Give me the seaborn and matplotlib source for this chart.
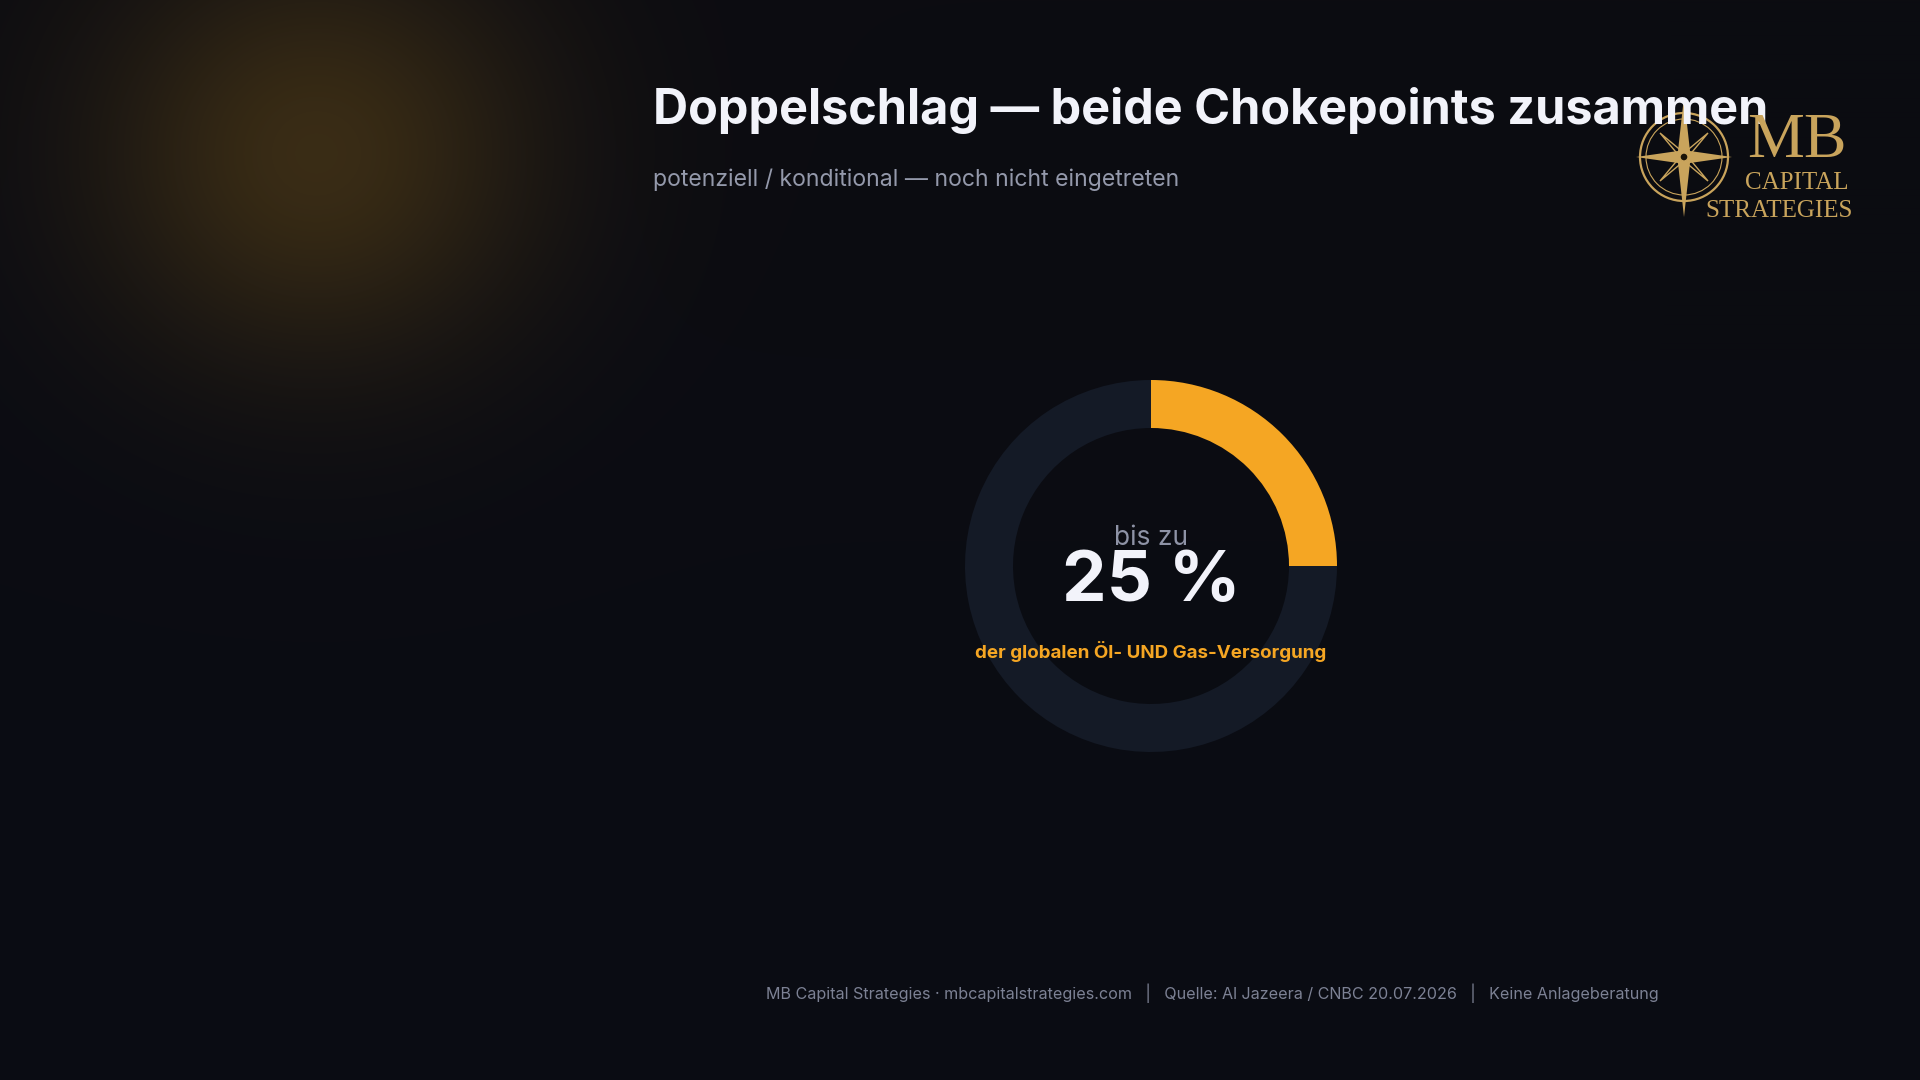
import numpy as np
import matplotlib
matplotlib.use("Agg")
import matplotlib.pyplot as plt
import seaborn as sns
from matplotlib.patches import Circle, Polygon

# ---- data ----
segment_labels = ["Betroffen", "Rest"]
segment_values = [25, 75]
center_prefix = "bis zu"
center_value = "25 %"
center_caption = "der globalen Öl- UND Gas-Versorgung"
title = "Doppelschlag — beide Chokepoints zusammen"
subtitle = "potenziell / konditional — noch nicht eingetreten"
footer = ("MB Capital Strategies · mbcapitalstrategies.com   |   "
          "Quelle: Al Jazeera / CNBC 20.07.2026   |   Keine Anlageberatung")

ORANGE = "#f5a623"
TRACK = "#141a26"
BG = "#0a0c14"

sns.set_theme(style="dark")
plt.rcParams["font.family"] = ["Inter", "DejaVu Sans"]

W, H = 1920, 1080
fig = plt.figure(figsize=(W / 100, H / 100), dpi=100)
fig.patch.set_facecolor(BG)

# ---- background with warm glow ----
bg = fig.add_axes([0, 0, 1, 1])
bg.set_axis_off()
yy, xx = np.mgrid[0:H, 0:W]
base = np.array([10, 12, 20]) / 255.0
top = np.array([12, 12, 17]) / 255.0
t = (yy / H)[..., None]
img = top * (1 - t) + base * t
d = np.sqrt(((xx - 316) / 380.0) ** 2 + ((yy - 153) / 360.0) ** 2)
g = (np.exp(-d ** 2 * 3.0) * 0.85)[..., None]
glow = np.array([66, 50, 22]) / 255.0
img = img * (1 - g) + glow * g
bg.imshow(np.clip(img, 0, 1), extent=[0, W, H, 0], aspect="auto", zorder=0)
bg.set_xlim(0, W)
bg.set_ylim(H, 0)

# ---- donut ----
cx, cy, R = 1151, 566, 186
ax = fig.add_axes([(cx - R) / W, 1 - (cy + R) / H, 2 * R / W, 2 * R / H])
ax.set_facecolor("none")
ax.pie(segment_values, colors=[ORANGE, TRACK], startangle=90, counterclock=False,
       radius=1.0, wedgeprops=dict(width=48 / R, edgecolor="none", linewidth=0))
ax.set_xlim(-1, 1)
ax.set_ylim(-1, 1)
ax.set_aspect("equal")
ax.set_axis_off()

# ---- texts ----
def ftxt(x, y, s, **kw):
    fig.text(x / W, 1 - y / H, s, **kw)

ftxt(653, 111, title, fontsize=35, fontweight="bold", color="#f2f3fa",
     ha="left", va="center")
ftxt(653, 180, subtitle, fontsize=16.6, color="#9499ab", ha="left", va="center")

ftxt(1151, 538, center_prefix, fontsize=19, color="#8e93a6", ha="center", va="center")
ftxt(1151, 583, center_value, fontsize=51, fontweight="bold", color="#f2f3fa",
     ha="center", va="center")
ftxt(1151, 651, center_caption, fontsize=13.5, fontweight="bold", color=ORANGE,
     ha="center", va="center")

ftxt(1212, 993, footer, fontsize=11.6, color="#7c8194", ha="center", va="center")

# ---- logo ----
GOLD = "#c9a45c"
lx, ly = 1684, 157
bg.add_patch(Circle((lx, ly), 44, fill=False, ec=GOLD, lw=1.6, zorder=3))
bg.add_patch(Circle((lx, ly), 38, fill=False, ec=GOLD, lw=0.8, zorder=3))
star_long = [(lx, ly - 60), (lx + 6, ly - 6), (lx + 48, ly), (lx + 6, ly + 6),
             (lx, ly + 60), (lx - 6, ly + 6), (lx - 48, ly), (lx - 6, ly - 6)]
bg.add_patch(Polygon(star_long, closed=True, fc=GOLD, ec="none", zorder=4))
s = 24
star_diag = [(lx + s, ly - s), (lx + 4, ly), (lx + s, ly + s), (lx, ly + 4),
             (lx - s, ly + s), (lx - 4, ly), (lx - s, ly - s), (lx, ly - 4)]
bg.add_patch(Polygon(star_diag, closed=True, fc="none", ec=GOLD, lw=1.0, zorder=4))
bg.add_patch(Circle((lx, ly), 4, fc="#1a1408", ec=GOLD, lw=1, zorder=5))

serif = ["Liberation Serif", "DejaVu Serif"]
ftxt(1797, 142, "MB", fontsize=46, color=GOLD, family=serif, ha="center", va="center")
ftxt(1797, 183, "CAPITAL", fontsize=18, color=GOLD, family=serif, ha="center", va="center")
ftxt(1779, 211, "STRATEGIES", fontsize=18, color=GOLD, family=serif, ha="center", va="center")

fig.savefig("out.png", dpi=100, facecolor=BG)
